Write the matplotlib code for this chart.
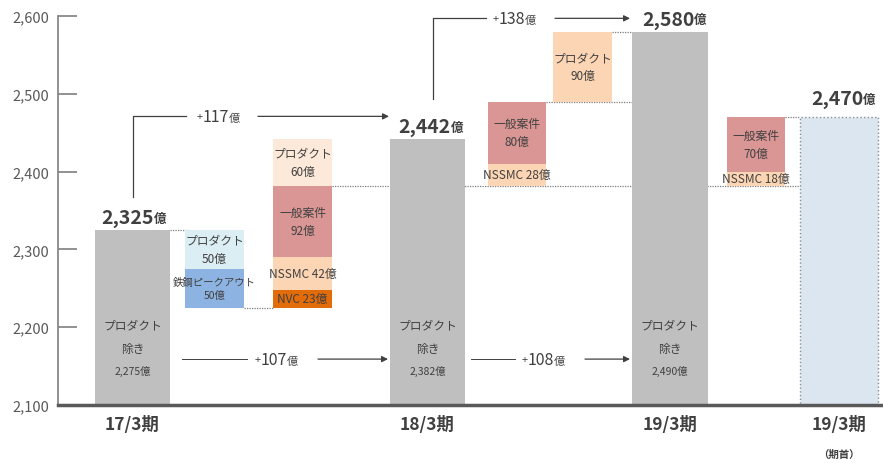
import matplotlib
matplotlib.use("Agg")
import matplotlib.pyplot as plt

plt.rcParams["font.family"] = ["Noto Sans CJK JP", "DejaVu Sans"]

# data (億円)
periods = ["17/3期", "18/3期", "19/3期", "19/3期"]
totals = [2325, 2442, 2580, 2470]
ex_product = [2275, 2382, 2490]

down_17 = [50, 50]                       # プロダクト, 鉄鋼ピークアウト
down_17_names = ["プロダクト", "鉄鋼ピークアウト"]
up_18 = [23, 42, 92, 60]                 # NVC, NSSMC, 一般案件, プロダクト
up_18_names = ["NVC", "NSSMC", "一般案件", "プロダクト"]
up_19 = [28, 80, 90]                     # NSSMC, 一般案件, プロダクト
up_19_names = ["NSSMC", "一般案件", "プロダクト"]
up_19b = [18, 70]                        # NSSMC, 一般案件 (期首)
up_19b_names = ["NSSMC", "一般案件"]

yticks = [2100, 2200, 2300, 2400, 2500, 2600]

# layout (x in pixel-like units)
bar_x = [132.5, 427.5, 670, 839]
bar_w = [75, 75, 76, 78]
s1_x, s2_x, s3_x, s4_x, s5_x = 214.5, 302.5, 517, 582.5, 756
sw = 59

GRAY = "#bfbfbf"
TXT = "#404040"
LINE = "#404040"
c_prod50 = "#daeef3"
c_peak = "#8db3e2"
c_prod60 = "#fde9d9"
c_general = "#da9694"
c_nssmc = "#fcd5b4"
c_nvc = "#e26b0a"
c_prod90 = "#fcd5b4"
c_kishu = "#dce6f1"

fig = plt.figure(figsize=(8.83, 4.64), dpi=100)
ax = fig.add_axes([58 / 883, 58 / 464, 825 / 883, 389 / 464])
ax.set_xlim(58, 883)
ax.set_ylim(2100, 2600)
for s in ["top", "right"]:
    ax.spines[s].set_visible(False)
ax.spines["left"].set_color("#7f7f7f")
ax.spines["left"].set_linewidth(1.2)
ax.spines["bottom"].set_color("#595959")
ax.spines["bottom"].set_linewidth(2.5)
ax.spines["bottom"].set_zorder(5)
ax.set_xticks([])
ax.set_yticks(yticks)
ax.set_yticklabels([f"{v:,}" for v in yticks])
ax.tick_params(axis="y", direction="in", length=14, width=1.2, color="#7f7f7f",
               labelsize=10.5, labelcolor="#595959", pad=6)


def box_label(x, y0, h, text, size=8.5, ls=1.5):
    ax.text(x, y0 + h / 2, text, ha="center", va="center", fontsize=size,
            color=TXT, linespacing=ls, zorder=4)


def rich(x, y, main, pre="", suf="", size=12, small=8, weight="normal"):
    t = ax.text(x, y, main, ha="center", va="baseline", fontsize=size,
                color=TXT, fontweight=weight, zorder=4)
    if suf:
        ax.annotate(suf, xy=(1, 0.12), xycoords=t, ha="left", va="bottom",
                    fontsize=small, color=TXT, fontweight=weight)
    if pre:
        ax.annotate(pre, xy=(0, 0.25), xycoords=t, ha="right", va="bottom",
                    fontsize=small, color=TXT)
    return t


# main bars
for i in range(3):
    ax.bar(bar_x[i], totals[i] - 2100, bottom=2100, width=bar_w[i], color=GRAY, zorder=2)
ax.bar(bar_x[3], totals[3] - 2100, bottom=2100, width=bar_w[3], color=c_kishu,
       edgecolor="#8c8c8c", linestyle=":", linewidth=1, zorder=2)

# 17/3 -> decreases
y = totals[0]
cols = [c_prod50, c_peak]
for v, c in zip(down_17, cols):
    ax.bar(s1_x, v, bottom=y - v, width=sw, color=c, zorder=2)
    y -= v
base_18 = y
box_label(s1_x, totals[0] - down_17[0], down_17[0], f"{down_17_names[0]}\n{down_17[0]}億", size=8.5)
box_label(s1_x, base_18, down_17[1], f"{down_17_names[1]}\n{down_17[1]}億", size=7.5, ls=1.3)

# -> 18/3 increases
y = base_18
cols = [c_nvc, c_nssmc, c_general, c_prod60]
for v, c, n in zip(up_18, cols, up_18_names):
    ax.bar(s2_x, v, bottom=y, width=sw, color=c, zorder=2)
    if n in ("NVC", "NSSMC"):
        box_label(s2_x, y, v, f"{n} {v}億")
    else:
        box_label(s2_x, y, v, f"{n}\n{v}億")
    y += v

# -> 19/3 increases
y = ex_product[1]
for v, c, n, xx in zip(up_19, [c_nssmc, c_general, c_prod90], up_19_names, [s3_x, s3_x, s4_x]):
    ax.bar(xx, v, bottom=y, width=sw if xx == s4_x else 58, color=c, zorder=2)
    if n == "NSSMC":
        box_label(xx, y, v, f"{n} {v}億")
    else:
        box_label(xx, y, v, f"{n}\n{v}億")
    y += v

# 19/3 期首
y = ex_product[1]
for v, c, n in zip(up_19b, [c_nssmc, c_general], up_19b_names):
    ax.bar(s5_x, v, bottom=y, width=58, color=c, zorder=2)
    if n == "NSSMC":
        box_label(s5_x, y, v, f"{n} {v}億")
    else:
        box_label(s5_x, y, v, f"{n}\n{v}億")
    y += v

# dotted connectors
dot = dict(color="#7f7f7f", linestyle=(0, (1, 1)), linewidth=0.9, zorder=1)
ax.hlines(totals[0], bar_x[0] + bar_w[0] / 2, s1_x - sw / 2 + 4, **dot)
ax.hlines(base_18, s1_x + sw / 2, s2_x - sw / 2, **dot)
ax.hlines(ex_product[1], s2_x + sw / 2, bar_x[3] - bar_w[3] / 2, **dot)
ax.hlines(ex_product[2], s3_x + 29, bar_x[2] - bar_w[2] / 2, **dot)
ax.hlines(totals[2], s4_x + sw / 2, bar_x[2] - bar_w[2] / 2, **dot)
ax.hlines(totals[3], s5_x + 29, bar_x[3] - bar_w[3] / 2, **dot)

# texts inside gray bars
for i in range(3):
    ax.text(bar_x[i], 2203, "プロダクト", ha="center", va="center", fontsize=8.5, color=TXT, zorder=4)
    ax.text(bar_x[i], 2173, "除き", ha="center", va="center", fontsize=8.5, color=TXT, zorder=4)
    ax.text(bar_x[i], 2144, f"{ex_product[i]:,}億", ha="center", va="center", fontsize=7.5, color=TXT, zorder=4)

# total labels above bars
lab_y = [2334, 2451, 2589, 2487]
lab_x = [bar_x[0] - 5, bar_x[1] - 3, bar_x[2] - 2, bar_x[3] - 2]
for x, yy, v in zip(lab_x, lab_y, totals):
    rich(x, yy, f"{v:,}", suf="億", size=14, small=9, weight="bold")

# growth arrows
arr = dict(arrowstyle="-|>", color=LINE, lw=0.9, mutation_scale=9, shrinkA=0, shrinkB=0)
lw = 0.9
g_total = [totals[1] - totals[0], totals[2] - totals[1]]
g_ex = [ex_product[1] - ex_product[0], ex_product[2] - ex_product[1]]

# +117
ax.plot([bar_x[0], bar_x[0], 186], [2367, 2471, 2471], color=LINE, lw=lw, zorder=3)
rich(216, 2465, str(g_total[0]), pre="+", suf="億", size=11.5, small=8)
ax.annotate("", xy=(389, 2471), xytext=(258, 2471), arrowprops=arr)
# +138
ax.plot([433, 433, 486], [2493, 2597, 2597], color=LINE, lw=lw, zorder=3)
rich(512, 2591, str(g_total[1]), pre="+", suf="億", size=11.5, small=8)
ax.annotate("", xy=(630, 2597), xytext=(555, 2597), arrowprops=arr)
# +107
ax.plot([182, 247], [2159, 2159], color=LINE, lw=0.7, zorder=3)
rich(274, 2153, str(g_ex[0]), pre="+", suf="億", size=11.5, small=8)
ax.annotate("", xy=(388, 2159), xytext=(318, 2159), arrowprops=arr)
# +108
ax.plot([471, 515], [2159, 2159], color=LINE, lw=0.7, zorder=3)
rich(541, 2153, str(g_ex[1]), pre="+", suf="億", size=11.5, small=8)
ax.annotate("", xy=(630, 2159), xytext=(585, 2159), arrowprops=arr)

# period labels
for x, p in zip(bar_x, periods):
    ax.text(x, 2075, p, ha="center", va="center", fontsize=12.5, fontweight="bold",
            color=TXT, clip_on=False)
ax.text(bar_x[3], 2037, "（期首）", ha="center", va="center", fontsize=7.5,
        fontweight="bold", color=TXT, clip_on=False)

fig.savefig("out.png", dpi=100)
